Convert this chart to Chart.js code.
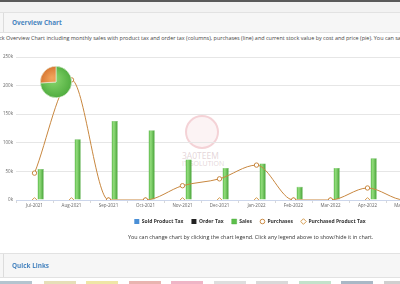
<!DOCTYPE html>
<html>
<head>
<meta charset="utf-8">
<script src="https://cdn.jsdelivr.net/npm/chart.js@4/dist/chart.umd.min.js"></script>
<style>
  html, body { margin: 0; padding: 0; width: 400px; height: 284px; overflow: hidden; background: #fff; font-family: "Open Sans", sans-serif; }
  .topbar { position: absolute; left: 0; top: 0; width: 400px; height: 2px; background: #5a5a5a; }
  .gap { position: absolute; left: 0; top: 2px; width: 400px; height: 10px; background: #f2f2f2; }
  .phead { position: absolute; left: 0; width: 400px; background: #f6f6f6; border-top: 1px solid #e2e2e2; border-bottom: 1px solid #e2e2e2; }
  .phead .box { position: absolute; left: 0; top: 0; bottom: 0; width: 3px; border-right: 1px solid #dcdcdc; }
  .phead span { position: absolute; left: 12px; color: #4a86c0; font-weight: bold; font-size: 6.4px; white-space: nowrap; }
  .txt { position: absolute; white-space: nowrap; color: #444; }
  #main { position: absolute; left: -2px; top: 48px; }
  #pie { position: absolute; left: 38px; top: 64px; }
  .wm { position: absolute; left: 185px; top: 115px; width: 30px; height: 30px; border-radius: 50%; border: 2px solid rgba(230,150,160,0.35); background: rgba(240,190,195,0.18); }
  .wmt { position: absolute; color: rgba(200,170,175,0.5); font-size: 8.5px; white-space: nowrap; }
  .ql { position: absolute; top: 281px; height: 4px; width: 32px; }
</style>
</head>
<body>
<div class="topbar"></div>
<div class="gap"></div>
<div class="phead" style="top:12px;height:19px;"><div class="box"></div><span style="top:5px;">Overview Chart</span></div>
<div class="txt" style="left:-9px;top:34px;font-size:5.45px;">Stock Overview Chart including monthly sales with product tax and order tax (columns), purchases (line) and current stock value by cost and price (pie). You can save the graph as image, jpeg, pdf or svg.</div>

<div class="wm"></div>
<div class="wmt" style="left:182px;top:150px;">3A0TEEM</div>
<div class="wmt" style="left:182px;top:159px;font-size:7px;">IT SOLUTION</div>

<canvas id="main" width="504" height="186"></canvas>
<canvas id="pie" width="36" height="36"></canvas>

<div class="txt" style="left:128px;top:233px;font-size:5.43px;color:#333;">You can change chart by clicking the chart legend. Click any legend above to show/hide it in chart.</div>

<div class="phead" style="top:253px;height:23px;"><div class="box"></div><span style="top:7px;">Quick Links</span></div>
<div class="ql" style="left:0;background:#b4c4cf;"></div>
<div class="ql" style="left:44px;background:#e6dfb8;"></div>
<div class="ql" style="left:86px;background:#efe6a6;"></div>
<div class="ql" style="left:129px;background:#e9b4b0;"></div>
<div class="ql" style="left:171px;background:#efb5c6;"></div>
<div class="ql" style="left:214px;background:#dedede;"></div>
<div class="ql" style="left:256px;background:#d9d9d9;"></div>
<div class="ql" style="left:299px;background:#c3e2cb;"></div>
<div class="ql" style="left:341px;background:#a9b8c6;"></div>
<div class="ql" style="left:384px;background:#cfcfcf;"></div>

<script>
var months = ["Jul-2021", "Aug-2021", "Sep-2021", "Oct-2021", "Nov-2021", "Dec-2021",
              "Jan-2022", "Feb-2022", "Mar-2022", "Apr-2022", "May-2022", "Jun-2022"];
var soldProductTax = [0, 0, 0, 0, 0, 0, 0, 0, 0, 0, 0, 0];
var orderTax = [0, 0, 0, 0, 0, 0, 0, 0, 0, 0, 0, 0];
var sales = [54000, 106000, 138000, 122000, 71000, 56000, 64000, 23000, 56000, 73000, 0, 0];
var purchases = [47000, 210000, 0, 0, 25000, 37000, 61000, 0, 0, 21000, 0, 0];
var purchasedProductTax = [0, 0, 0, 0, 0, 0, 0, 0, 0, 0, 0, 0];
var yTicks = [0, 50000, 100000, 150000, 200000, 250000];

var stockLabels = ["Stock Value by Price", "Stock Value by Cost"];
var stockValues = [74, 26];

var lineColor = '#c8873f';
var diamondColor = '#d39a4e';
var small = { family: '"Open Sans", sans-serif', size: 4.5 };

// little legend markers, smaller than Chart.js draws them
function marker(shape, color) {
  var c = document.createElement('canvas');
  c.width = 7; c.height = 7;
  var g = c.getContext('2d');
  g.fillStyle = '#fff';
  g.strokeStyle = color;
  g.lineWidth = 1;
  g.beginPath();
  if (shape === 'circle') {
    g.arc(3.5, 3.5, 2.3, 0, Math.PI * 2);
  } else {
    g.moveTo(3.5, 0.7); g.lineTo(6.3, 3.5); g.lineTo(3.5, 6.3); g.lineTo(0.7, 3.5); g.closePath();
  }
  g.fill(); g.stroke();
  return c;
}
var circleMark = marker('circle', lineColor);
var diamondMark = marker('diamond', diamondColor);

// horizontal shading of each sales column
function salesFill(c) {
  var x = c.chart.scales.x;
  if (c.type !== 'data' || !x) return '#5dbf4b';
  var w = x.width / months.length * 0.5 / 3;
  var left = x.getPixelForValue(c.dataIndex) + w / 2;
  if (!isFinite(left) || !isFinite(w) || w <= 0) return '#5dbf4b';
  var g = c.chart.ctx.createLinearGradient(left, 0, left + w, 0);
  g.addColorStop(0, '#55b544');
  g.addColorStop(0.35, '#93dd7c');
  g.addColorStop(1, '#429f34');
  return g;
}

var ctx = document.getElementById('main').getContext('2d');
var mainChart = new Chart(ctx, {
  type: 'bar',
  data: {
    labels: months,
    datasets: [
      { label: 'Sold Product Tax', data: soldProductTax, backgroundColor: '#4a8fd6', pointStyle: 'rect', order: 1 },
      { label: 'Order Tax', data: orderTax, backgroundColor: '#222222', pointStyle: 'rect', order: 1 },
      { label: 'Sales', data: sales, backgroundColor: salesFill, borderColor: '#4aa83b', borderWidth: 0.4, pointStyle: 'rect', order: 1 },
      { type: 'line', label: 'Purchases', data: purchases, borderColor: lineColor, borderWidth: 1,
        cubicInterpolationMode: 'monotone', pointStyle: 'circle', pointRadius: 2.2, pointBorderWidth: 1,
        pointBackgroundColor: '#fff', pointBorderColor: lineColor, backgroundColor: '#fff', order: 0 },
      { type: 'line', label: 'Purchased Product Tax', data: purchasedProductTax, showLine: false,
        pointStyle: 'rectRot', pointRadius: 2.4, pointBorderWidth: 1, pointBackgroundColor: '#fff',
        pointBorderColor: diamondColor, borderColor: diamondColor, backgroundColor: '#fff', order: 0 }
    ]
  },
  options: {
    responsive: false,
    animation: false,
    layout: { padding: { top: 9, right: 0, left: 0, bottom: 0 } },
    datasets: { bar: { categoryPercentage: 0.5, barPercentage: 1 } },
    scales: {
      x: {
        grid: { display: true, drawOnChartArea: false, tickLength: 3, color: '#d8d8d8' },
        border: { color: '#ccd6eb' },
        ticks: { font: small, color: '#666', padding: 0, maxRotation: 0, autoSkip: false },
        afterFit: function (s) { s.height = 11; }
      },
      y: {
        min: 0, max: 250000,
        afterBuildTicks: function (s) { s.ticks = yTicks.map(function (v) { return { value: v }; }); },
        grid: { color: '#e6e6e6', drawTicks: false },
        border: { display: false },
        ticks: { font: small, color: '#666', padding: 3,
                 callback: function (v) { return (v / 1000) + 'k'; } },
        afterFit: function (s) { s.width = 18; }
      },
      // empty right margin, so the legend centres on the whole canvas
      yRight: {
        position: 'right',
        grid: { drawOnChartArea: false, drawTicks: false },
        border: { display: false },
        ticks: { display: false },
        afterFit: function (s) { s.width = 42; }
      }
    },
    plugins: {
      tooltip: { enabled: false },
      legend: {
        position: 'bottom',
        labels: {
          usePointStyle: true, boxWidth: 6, boxHeight: 6, padding: 8, color: '#333',
          font: { family: '"Open Sans", sans-serif', size: 5, weight: 'bold' },
          sort: function (a, b) { return a.datasetIndex - b.datasetIndex; },
          generateLabels: function (chart) {
            var items = Chart.defaults.plugins.legend.labels.generateLabels(chart);
            items.forEach(function (it) {
              if (it.text === 'Purchases') it.pointStyle = circleMark;
              if (it.text === 'Purchased Product Tax') it.pointStyle = diamondMark;
              if (it.text === 'Sales') it.fillStyle = '#5dbf4b';
            });
            return items;
          }
        }
      }
    }
  }
});

function radial(c, inner, outer) {
  var g = c.chart.ctx.createRadialGradient(14, 14, 1, 18, 18, 18);
  g.addColorStop(0, inner);
  g.addColorStop(1, outer);
  return g;
}

var pieChart = new Chart(document.getElementById('pie').getContext('2d'), {
  type: 'pie',
  data: {
    labels: stockLabels,
    datasets: [{
      data: stockValues,
      backgroundColor: function (c) {
        return c.dataIndex === 0 ? radial(c, '#8ad86f', '#4aa83a') : radial(c, '#f0a35a', '#d36d2a');
      },
      borderColor: '#e9f3e0',
      borderWidth: 0.6
    }]
  },
  options: {
    responsive: false,
    animation: false,
    layout: { padding: 2 },
    plugins: { legend: { display: false }, tooltip: { enabled: false } }
  }
});
</script>
</body>
</html>
